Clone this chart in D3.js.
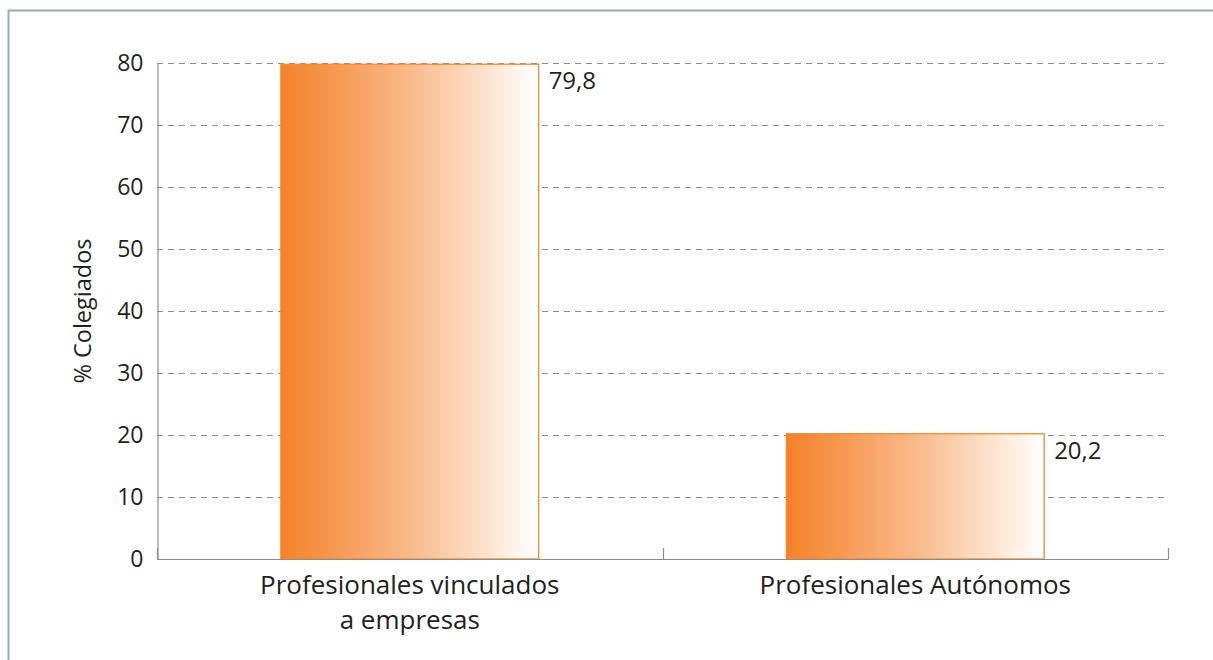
<!DOCTYPE html>
<html>
<head>
<meta charset="utf-8">
<script src="https://cdn.jsdelivr.net/npm/d3@7"></script>
<style>
  html, body { margin: 0; padding: 0; background: #fff; }
  svg { display: block; }
  text { font-family: "Open Sans", "Noto Sans", sans-serif; fill: #231f20; }
</style>
</head>
<body>
<svg id="chart" width="1213" height="660"></svg>
<script>
// Share of members by professional situation
const categories = [["Profesionales vinculados", "a empresas"], ["Profesionales Autónomos"]];
const values = [79.8, 20.2];
const valueLabels = ["79,8", "20,2"];
const yTicks = [0, 10, 20, 30, 40, 50, 60, 70, 80];
const yTitle = "% Colegiados";

const svg = d3.select("#chart");
const margin = { left: 157, right: 45, top: 63, bottom: 101 };
const W = 1213, H = 660;
const x0 = margin.left, x1 = W - margin.right;
const yBase = H - margin.bottom;

// outer frame, open to the right and bottom
svg.append("rect")
  .attr("x", 8.5).attr("y", 10.5)
  .attr("width", 1300).attr("height", 800)
  .attr("fill", "none").attr("stroke", "#8eacc4").attr("stroke-width", 2);

const x = d3.scaleBand()
  .domain(d3.range(categories.length))
  .range([x0, x1])
  .paddingInner(0.49).paddingOuter(0.245);

const y = d3.scaleLinear().domain([0, 80]).range([yBase, margin.top]);

// bar gradient: solid orange on the left fading to white on the right
const defs = svg.append("defs");
const grad = defs.append("linearGradient").attr("id", "barGrad")
  .attr("x1", "0%").attr("x2", "100%").attr("y1", "0%").attr("y2", "0%");
grad.append("stop").attr("offset", "0%").attr("stop-color", "#f4812a");
grad.append("stop").attr("offset", "50%").attr("stop-color", "#f9b98a");
grad.append("stop").attr("offset", "100%").attr("stop-color", "#ffffff");

// dashed gridlines
svg.append("g")
  .selectAll("line")
  .data(yTicks.filter(d => d > 0))
  .join("line")
  .attr("x1", x0).attr("x2", x1)
  .attr("y1", d => Math.round(y(d)) + 0.5).attr("y2", d => Math.round(y(d)) + 0.5)
  .attr("stroke", "#8c8c8c").attr("stroke-width", 1)
  .attr("stroke-dasharray", "6,5");

// y axis
const yAxis = d3.axisLeft(y).tickValues(yTicks).tickSize(0).tickPadding(14);
const gy = svg.append("g").attr("transform", `translate(${x0 + 0.5},0.5)`).call(yAxis);
gy.select(".domain").attr("stroke", "#8c8c8c").attr("stroke-width", 1.2);
gy.selectAll("text").style("font-size", "23px").attr("fill", "#231f20")
  .style("font-family", "'Open Sans', sans-serif");

// bars
svg.append("g")
  .selectAll("rect")
  .data(values)
  .join("rect")
  .attr("x", (d, i) => x(i))
  .attr("y", d => y(d))
  .attr("width", x.bandwidth())
  .attr("height", d => yBase - y(d))
  .attr("fill", "url(#barGrad)")
  .attr("stroke", "#f4872f").attr("stroke-width", 1.3);

// x axis line with upward ticks at band boundaries
const xTickPos = [x0, (x(0) + x.bandwidth() + x(1)) / 2, x1];
svg.append("line")
  .attr("x1", x0).attr("x2", x1)
  .attr("y1", yBase + 0.5).attr("y2", yBase + 0.5)
  .attr("stroke", "#8c8c8c").attr("stroke-width", 1.2);
svg.append("g").selectAll("line")
  .data(xTickPos)
  .join("line")
  .attr("x1", d => Math.round(d) + 0.5).attr("x2", d => Math.round(d) + 0.5)
  .attr("y1", yBase + 0.5).attr("y2", yBase - 11)
  .attr("stroke", "#8c8c8c").attr("stroke-width", 1.2);

// value labels beside the bar tops
svg.append("g")
  .selectAll("text")
  .data(values)
  .join("text")
  .attr("x", (d, i) => x(i) + x.bandwidth() + 10)
  .attr("y", d => y(d) + 25)
  .style("font-size", "24px")
  .text((d, i) => valueLabels[i]);

// category labels
const catG = svg.append("g");
categories.forEach((lines, i) => {
  const t = catG.append("text")
    .attr("x", x(i) + x.bandwidth() / 2)
    .attr("y", yBase + 35)
    .attr("text-anchor", "middle")
    .style("font-size", "26px");
  lines.forEach((ln, j) => {
    t.append("tspan").attr("x", x(i) + x.bandwidth() / 2)
      .attr("dy", j === 0 ? 0 : 35).text(ln);
  });
});

// y axis title
svg.append("text")
  .attr("transform", `translate(91,${(y(80) + yBase) / 2}) rotate(-90)`)
  .attr("text-anchor", "middle")
  .style("font-size", "23.5px")
  .text(yTitle);
</script>
</body>
</html>
